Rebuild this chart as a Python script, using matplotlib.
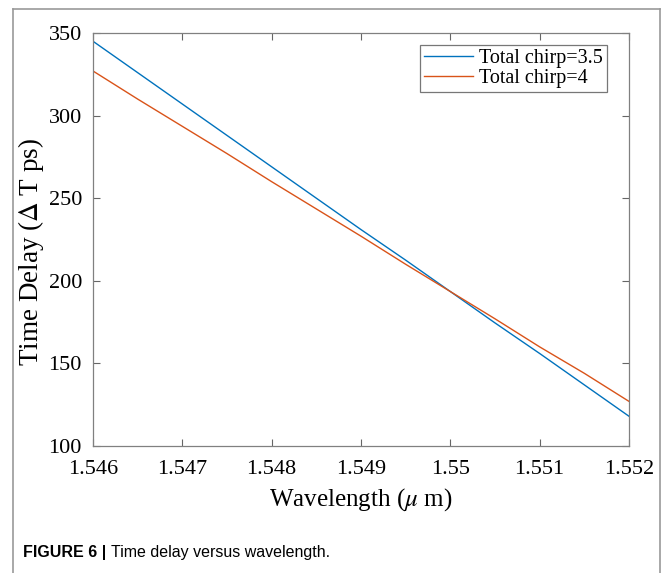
import matplotlib
matplotlib.use("Agg")
import matplotlib.pyplot as plt
from matplotlib.lines import Line2D

plt.rcParams["font.family"] = ["Liberation Serif", "DejaVu Serif"]
plt.rcParams["mathtext.fontset"] = "stix"

# wavelength (um) and time delay (ps)
wavelength = [1.546, 1.5465, 1.547, 1.5475, 1.548, 1.5485, 1.549,
              1.5495, 1.550, 1.5505, 1.551, 1.5515, 1.552]
delay_chirp_35 = [345, 326, 307, 288, 269, 250, 231,
                  212.5, 193.5, 174.5, 156, 137, 118]
delay_chirp_4 = [327, 310, 293.5, 277, 260, 243.5, 227,
                 210, 193.5, 177, 160, 144, 127]

xticks = [1.546, 1.547, 1.548, 1.549, 1.55, 1.551, 1.552]
xtick_labels = ["1.546", "1.547", "1.548", "1.549", "1.55", "1.551", "1.552"]
yticks = [100, 150, 200, 250, 300, 350]

W, H = 666, 573
fig = plt.figure(figsize=(6.66, 5.73), dpi=100)
ax = fig.add_axes([93 / W, 1 - 446 / H, (629 - 93) / W, (446 - 33) / H])

ax.plot(wavelength, delay_chirp_35, color="#0072BD", lw=1.0, label="Total chirp=3.5")
ax.plot(wavelength, delay_chirp_4, color="#D95319", lw=1.0, label="Total chirp=4")

ax.set_xlim(1.546, 1.552)
ax.set_ylim(100, 350)
ax.set_xticks(xticks)
ax.set_xticklabels(xtick_labels)
ax.set_yticks(yticks)
ax.tick_params(direction="in", top=True, right=True, length=5, width=0.8,
               color="#666666", labelsize=16)
ax.tick_params(axis="x", pad=10)
ax.tick_params(axis="y", pad=8)
for sp in ax.spines.values():
    sp.set_color("#808080")
    sp.set_linewidth(0.9)

ax.set_xlabel(r"Wavelength ($\mu$ m)", fontsize=18, labelpad=5)
ax.set_ylabel(r"Time Delay ($\Delta$ T ps)", fontsize=19.5)
ax.yaxis.set_label_coords(-0.088, 0.47)

leg = ax.legend(loc="upper right", bbox_to_anchor=(0.959, 0.971),
                borderaxespad=0, fontsize=14.5, frameon=True, fancybox=False,
                handlelength=2.45, handletextpad=0.3, borderpad=0.2,
                labelspacing=0.05)
leg.get_frame().set_edgecolor("#555555")
leg.get_frame().set_linewidth(0.9)

# outer frame of the figure panel
frame = dict(color="#999999", lw=1.2, transform=fig.transFigure)
fig.add_artist(Line2D([13 / W, 13 / W], [0, 1 - 9 / H], **frame))
fig.add_artist(Line2D([13 / W, 660 / W], [1 - 9 / H, 1 - 9 / H], **frame))
fig.add_artist(Line2D([660 / W, 660 / W], [0, 1 - 9 / H], **frame))

# caption: bold label, then the plain text right after it
cap_y = 1 - 552 / H
t1 = fig.text(23 / W, cap_y, "FIGURE 6 |", fontsize=11.5, fontweight="bold",
              family=["Liberation Sans"], va="center", ha="left")
renderer = fig.canvas.get_renderer()
x_end = t1.get_window_extent(renderer).x1
fig.text((x_end + 5) / W, cap_y, "Time delay versus wavelength.", fontsize=11.5,
         family=["Liberation Sans"], va="center", ha="left")

fig.savefig("out.png", dpi=100)
